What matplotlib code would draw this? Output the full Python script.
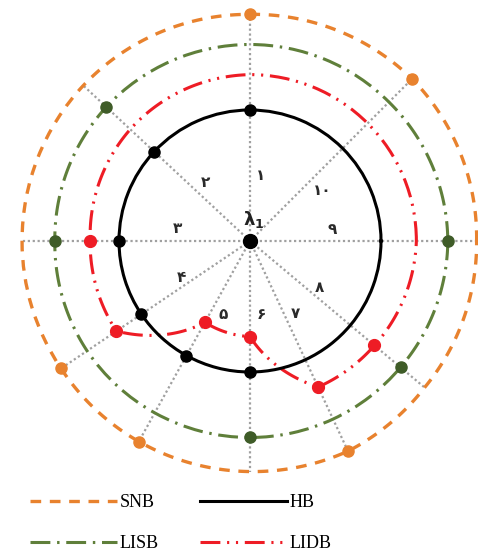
"""
Stability boundaries around the operating point lambda_1: SNB, LISB, LIDB and HB
drawn on ten load-direction rays. Saves out.png (478x555).
"""

import numpy as np
import matplotlib.pyplot as plt
from matplotlib.lines import Line2D

# --- Data -------------------------------------------------------------------
# ray directions (degrees, counter-clockwise from east)
RAY_ANGLES = [0, 45, 90, 137, 180, 214, 241, 270, 295, 320]

# boundary distance from lambda_1 along each ray (HB radius = 1)
SNB_R = [1.73, 1.75, 1.73, 1.74, 1.74, 1.74, 1.75, 1.76, 1.77, 1.74]
LISB_R = [1.51, 1.50, 1.50, 1.50, 1.49, 1.50, 1.50, 1.50, 1.50, 1.50]
LIDB_R = [1.27, 1.27, 1.27, 1.25, 1.22, 1.23, 0.71, 0.73, 1.23, 1.24]
HB_R = [1.00, 1.00, 1.00, 1.00, 1.00, 1.00, 1.00, 1.00, 1.00, 1.00]

# rays on which each boundary was actually hit (index into RAY_ANGLES)
SNB_HITS = [1, 2, 5, 6, 8]
LISB_HITS = [0, 3, 4, 7, 9]
LIDB_HITS = [4, 5, 6, 7, 8, 9]
HB_HITS = [2, 3, 4, 5, 6, 7]

# sector numbers (Persian digits)
SECTOR_LABELS = ["۱", "۲", "۳", "۴", "۵", "۶", "۷", "۸", "۹", "۱۰"]
SECTOR_POS = [(80.5, 0.51), (127, 0.56), (170, 0.56), (208, 0.59), (250, 0.60),
              (278.5, 0.57), (302, 0.65), (326, 0.64), (8, 0.63), (35, 0.67)]

ORANGE = "#e8822e"
GREEN = "#5f7f3a"
GREEN_DOT = "#3f5c28"
RED = "#ee1c25"

fig = plt.figure(figsize=(4.78, 5.55), dpi=100)
# center of the diagram at (250, 241) px, 131 px per unit radius
R_MAX = 1.9
px = 131 * R_MAX
ax = fig.add_axes([(250 - px) / 478, (555 - 241 - px) / 555,
                   2 * px / 478, 2 * px / 555], projection="polar")
ax.set_ylim(0, R_MAX)
ax.set_axis_off()

theta = np.deg2rad(RAY_ANGLES)
theta_closed = np.append(theta, theta[0] + 2 * np.pi)

# rays out to the SNB boundary
for t, r in zip(theta, SNB_R):
    ax.plot([t, t], [0, r], color="#a0a0a0", lw=1.6, ls=(0, (1, 1.2)), zorder=1)


def closed(vals):
    return np.append(vals, vals[0])


def boundary(vals, **style):
    # draw in polar coords: constant r -> arc, changing r -> spiral
    (line,) = ax.plot(theta_closed, closed(vals), **style)
    line.get_path()._interpolation_steps = 60
    return line


snb_style = dict(color=ORANGE, lw=2.4, ls=(0, (3.2, 2.6)))
lisb_style = dict(color=GREEN, lw=2.2, ls=(0, (6.5, 2.2, 0.8, 2.2)))
lidb_style = dict(color=RED, lw=2.2, ls=(0, (6.5, 2.2, 0.7, 2.2, 0.7, 2.2)))
hb_style = dict(color="black", lw=2.2, ls="-")

boundary(SNB_R, **snb_style, zorder=2)
boundary(LISB_R, **lisb_style, zorder=2)
boundary(LIDB_R, **lidb_style, zorder=2)
boundary(HB_R, **hb_style, zorder=3)

ax.plot(theta[SNB_HITS], np.array(SNB_R)[SNB_HITS], "o", color=ORANGE, ms=8, zorder=4)
ax.plot(theta[LISB_HITS], np.array(LISB_R)[LISB_HITS], "o", color=GREEN_DOT, ms=8, zorder=4)
ax.plot(theta[LIDB_HITS], np.array(LIDB_R)[LIDB_HITS], "o", color=RED, ms=8.5, zorder=4)
ax.plot(theta[HB_HITS], np.array(HB_R)[HB_HITS], "o", color="black", ms=8, zorder=4)
ax.plot([0], [0], "o", color="black", ms=10, zorder=4)

for lab, (a, r) in zip(SECTOR_LABELS, SECTOR_POS):
    ax.text(np.deg2rad(a), r, lab, fontsize=11, ha="center", va="center",
            family="DejaVu Sans", fontweight="bold", color="#2a2a2a")
ax.text(np.deg2rad(80), 0.17, r"$\mathbf{\lambda_1}$", fontsize=13,
        ha="center", va="center", color="#222222")

handles = [
    Line2D([], [], **snb_style),
    Line2D([], [], **lisb_style),
    Line2D([], [], **hb_style),
    Line2D([], [], **lidb_style),
]
labels = ["SNB", "LISB", "HB", "LIDB"]
fig.legend(handles, labels, ncol=2, loc="upper left",
           bbox_to_anchor=(30 / 478, 1 - 494 / 555), frameon=False,
           prop={"family": "Liberation Serif", "size": 13},
           handlelength=4.8, handletextpad=0.15, columnspacing=2.3,
           labelspacing=1.35, borderpad=0, borderaxespad=0)

fig.savefig("out.png", dpi=100)
